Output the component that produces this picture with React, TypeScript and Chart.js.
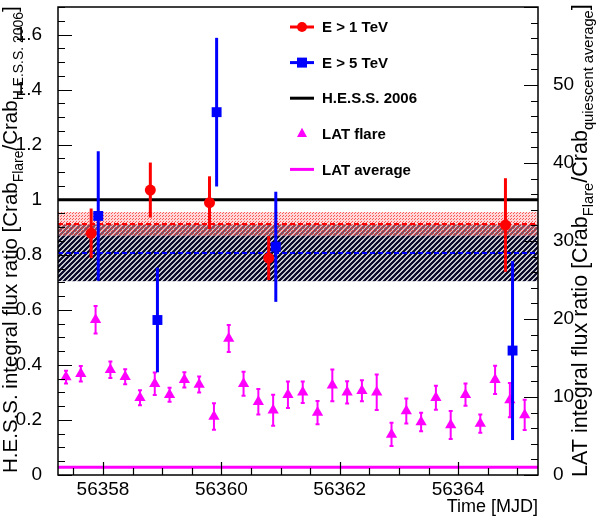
import React, { useEffect, useRef } from 'react';
import { Chart, registerables } from 'chart.js';

Chart.register(...registerables);

const FONT = "'Liberation Sans', Arial, Helvetica, sans-serif";

// frame range in time [MJD]
const X_MIN = 56357.24;
const X_MAX = 56365.35;

const xTicks = [56358, 56360, 56362, 56364];
const leftTicks = [0, 0.2, 0.4, 0.6, 0.8, 1, 1.2, 1.4, 1.6];
const rightTicks = [0, 10, 20, 30, 40, 50];

// H.E.S.S. E > 1 TeV (ratio to H.E.S.S. 2006 Crab)
const tev1Time = [56357.8, 56358.8, 56359.8, 56360.8, 56364.8];
const tev1Flux = [0.878, 1.035, 0.989, 0.788, 0.908];
const tev1Err = [0.09, 0.1, 0.096, 0.08, 0.17];

// H.E.S.S. E > 5 TeV
const tev5Time = [56357.92, 56358.92, 56359.92, 56360.92, 56364.92];
const tev5Flux = [0.941, 0.563, 1.318, 0.829, 0.452];
const tev5Err = [0.235, 0.19, 0.27, 0.2, 0.325];

// Fermi-LAT flare, 6 h bins (ratio to quiescent average, right axis)
const latTime = [
  56357.375, 56357.625, 56357.875, 56358.125, 56358.375, 56358.625, 56358.875, 56359.125,
  56359.375, 56359.625, 56359.875, 56360.125, 56360.375, 56360.625, 56360.875, 56361.125,
  56361.375, 56361.625, 56361.875, 56362.125, 56362.375, 56362.625, 56362.875, 56363.125,
  56363.375, 56363.625, 56363.875, 56364.125, 56364.375, 56364.625, 56364.875, 56365.125,
];
const latFlux = [
  12.55, 12.99, 19.9, 13.5, 12.6, 9.9, 11.7, 10.3,
  12.2, 11.6, 7.5, 17.5, 11.7, 9.4, 8.3, 10.3,
  10.6, 8.0, 11.5, 10.6, 10.8, 10.6, 5.2, 8.2,
  6.8, 9.9, 6.4, 10.3, 6.6, 12.2, 9.6, 7.7,
];
const latErr = [
  0.83, 1.0, 1.77, 1.05, 0.96, 0.96, 1.43, 0.9,
  0.98, 1.02, 1.7, 1.72, 1.55, 1.64, 2.0, 1.7,
  1.38, 1.49, 2.04, 1.43, 1.34, 2.28, 1.49, 1.6,
  1.19, 1.53, 1.79, 1.43, 1.17, 1.81, 2.19, 1.94,
];

// reference levels
const HESS_2006 = 1.0;
const LAT_AVERAGE = 1.0;
const tev1Mean = 0.912;
const tev1Band = [0.868, 0.955];
const tev5Mean = 0.806;
const tev5Band = [0.704, 0.91];

const RED = '#ff0000';
const BLUE = '#0000ff';
const MAGENTA = '#ff00ff';

type Part = { t: string; sub?: boolean };

const leftTitle: Part[] = [
  { t: 'H.E.S.S. integral flux ratio [Crab' },
  { t: 'Flare', sub: true },
  { t: '/Crab' },
  { t: 'H.E.S.S. 2006', sub: true },
  { t: ']' },
];
const rightTitle: Part[] = [
  { t: 'LAT integral flux ratio [Crab' },
  { t: 'Flare', sub: true },
  { t: '/Crab' },
  { t: 'quiescent average', sub: true },
  { t: ']' },
];

const legendItems = [
  { label: 'E > 1 TeV', color: RED, line: true, marker: 'circle' },
  { label: 'E > 5 TeV', color: BLUE, line: true, marker: 'rect' },
  { label: 'H.E.S.S. 2006', color: '#000', line: true, marker: '' },
  { label: 'LAT flare', color: MAGENTA, line: false, marker: 'triangle' },
  { label: 'LAT average', color: MAGENTA, line: true, marker: '' },
];

const pts = (xs: number[], ys: number[]) => xs.map((x, i) => ({ x, y: ys[i] }));
const flat = (y: number) => [{ x: X_MIN, y }, { x: X_MAX, y }];

// rotated title, reads bottom to top, stretched to the given length
function drawVerticalTitle(ctx: CanvasRenderingContext2D, parts: Part[], baseX: number, yBottom: number, length: number) {
  const subScale = 0.68;
  const widthAt = (f: number) =>
    parts.reduce((w, p) => {
      ctx.font = `${p.sub ? f * subScale : f}px ${FONT}`;
      return w + ctx.measureText(p.t).width;
    }, 0);
  const f = (20 * length) / widthAt(20);
  ctx.save();
  ctx.translate(baseX, yBottom);
  ctx.rotate(-Math.PI / 2);
  ctx.fillStyle = '#000';
  ctx.textAlign = 'left';
  ctx.textBaseline = 'alphabetic';
  let x = 0;
  for (const p of parts) {
    ctx.font = `${p.sub ? f * subScale : f}px ${FONT}`;
    ctx.fillText(p.t, x, p.sub ? f * 0.3 : 0);
    x += ctx.measureText(p.t).width;
  }
  ctx.restore();
}

function drawMarker(ctx: CanvasRenderingContext2D, style: string, x: number, y: number, color: string) {
  ctx.fillStyle = color;
  ctx.beginPath();
  if (style === 'circle') ctx.arc(x, y, 5, 0, Math.PI * 2);
  else if (style === 'rect') ctx.rect(x - 5, y - 5, 10, 10);
  else if (style === 'triangle') {
    ctx.moveTo(x, y - 6);
    ctx.lineTo(x + 5, y + 3.2);
    ctx.lineTo(x - 5, y + 3.2);
    ctx.closePath();
  }
  ctx.fill();
}

const rootStyle = {
  id: 'rootStyle',
  beforeDatasetsDraw(chart: any) {
    const { ctx, chartArea } = chart;
    const y = chart.scales.y;
    const { left, right } = chartArea;
    ctx.save();
    // E > 5 TeV band, hatched
    const hc = document.createElement('canvas');
    hc.width = 5;
    hc.height = 5;
    const hg = hc.getContext('2d')!;
    hg.strokeStyle = '#080828';
    hg.lineWidth = 2.3;
    hg.beginPath();
    hg.moveTo(0, 5);
    hg.lineTo(5, 0);
    hg.moveTo(-1, 1);
    hg.lineTo(1, -1);
    hg.moveTo(4, 6);
    hg.lineTo(6, 4);
    hg.stroke();
    ctx.fillStyle = ctx.createPattern(hc, 'repeat');
    let t = y.getPixelForValue(tev5Band[1]);
    let b = y.getPixelForValue(tev5Band[0]);
    ctx.fillRect(left, t, right - left, b - t);
    // E > 1 TeV band, dotted
    const dc = document.createElement('canvas');
    dc.width = 3;
    dc.height = 3;
    const dg = dc.getContext('2d')!;
    dg.fillStyle = 'rgba(255,170,170,0.45)';
    dg.fillRect(0, 0, 3, 3);
    dg.fillStyle = 'rgba(255,40,40,0.75)';
    dg.fillRect(0, 0, 1, 1);
    dg.fillRect(1, 2, 1, 1);
    ctx.fillStyle = ctx.createPattern(dc, 'repeat');
    t = y.getPixelForValue(tev1Band[1]);
    b = y.getPixelForValue(tev1Band[0]);
    ctx.fillRect(left, t, right - left, b - t);
    ctx.restore();
  },
  beforeDatasetDraw(chart: any, args: any) {
    const ds = chart.data.datasets[args.index];
    if (!ds.errors) return;
    const { ctx, chartArea } = chart;
    const xs = chart.scales.x;
    const ys = chart.scales[ds.yAxisID || 'y'];
    ctx.save();
    ctx.beginPath();
    ctx.rect(chartArea.left, chartArea.top, chartArea.right - chartArea.left, chartArea.bottom - chartArea.top);
    ctx.clip();
    ctx.strokeStyle = ds.borderColor;
    ctx.lineWidth = ds.errWidth;
    ds.data.forEach((p: any, i: number) => {
      const e = ds.errors[i];
      const px = xs.getPixelForValue(p.x);
      const top = ys.getPixelForValue(p.y + e);
      const bot = ys.getPixelForValue(p.y - e);
      ctx.beginPath();
      ctx.moveTo(px, top);
      ctx.lineTo(px, bot);
      if (ds.errCap) {
        ctx.moveTo(px - 2, top);
        ctx.lineTo(px + 2, top);
        ctx.moveTo(px - 2, bot);
        ctx.lineTo(px + 2, bot);
      }
      ctx.stroke();
    });
    ctx.restore();
  },
  afterDraw(chart: any) {
    const { ctx, chartArea } = chart;
    const { left, right, top, bottom } = chartArea;
    const x = chart.scales.x;
    const y = chart.scales.y;
    const y2 = chart.scales.y2;
    ctx.save();
    ctx.strokeStyle = '#000';
    ctx.lineWidth = 1.2;
    ctx.beginPath();
    // left axis ticks
    for (let v = 0; v <= 1.7001; v += 0.05) {
      const major = Math.abs(v / 0.2 - Math.round(v / 0.2)) < 1e-6;
      const py = Math.round(y.getPixelForValue(v)) + 0.5;
      ctx.moveTo(left, py);
      ctx.lineTo(left + (major ? 14 : 7), py);
    }
    // right axis ticks
    for (let v = 0; v <= 60.001; v += 2) {
      const major = v % 10 === 0;
      const py = Math.round(y2.getPixelForValue(v)) + 0.5;
      ctx.moveTo(right, py);
      ctx.lineTo(right - (major ? 14 : 7), py);
    }
    // time ticks
    for (let v = 56357.5; v <= X_MAX; v += 0.5) {
      const major = xTicks.includes(v);
      const px = Math.round(x.getPixelForValue(v)) + 0.5;
      ctx.moveTo(px, bottom);
      ctx.lineTo(px, bottom - (major ? 13 : 7));
    }
    ctx.stroke();
    ctx.lineWidth = 1.5;
    ctx.strokeRect(left, top, right - left, bottom - top);

    // legend
    const lx = 290;
    legendItems.forEach((it, i) => {
      const ly = 27 + i * 35.6;
      if (it.line) {
        ctx.strokeStyle = it.color;
        ctx.lineWidth = 3;
        ctx.beginPath();
        ctx.moveTo(lx, ly);
        ctx.lineTo(lx + 24, ly);
        ctx.stroke();
      }
      if (it.marker) drawMarker(ctx, it.marker, lx + 12, ly, it.color);
      ctx.fillStyle = '#000';
      ctx.font = `bold 15px ${FONT}`;
      ctx.textAlign = 'left';
      ctx.textBaseline = 'middle';
      ctx.fillText(it.label, 322, ly + 1);
    });

    // axis titles
    ctx.font = `18px ${FONT}`;
    ctx.textAlign = 'right';
    ctx.textBaseline = 'alphabetic';
    ctx.fillText('Time [MJD]', right, 512);
    drawVerticalTitle(ctx, leftTitle, 17, 473, 467);
    drawVerticalTitle(ctx, rightTitle, 587, 477, 473);
    ctx.restore();
  },
};

const tickFont = { family: FONT, size: 19 };

export default function App() {
  const canvasRef = useRef<HTMLCanvasElement | null>(null);

  useEffect(() => {
    if (!canvasRef.current) return;
    const chart = new Chart(canvasRef.current, {
      type: 'scatter',
      data: {
        datasets: [
          {
            label: 'E > 5 TeV',
            data: pts(tev5Time, tev5Flux),
            errors: tev5Err,
            errWidth: 3,
            pointStyle: 'rect',
            pointRadius: 7,
            backgroundColor: BLUE,
            borderColor: BLUE,
            borderWidth: 0,
            order: 1,
          },
          {
            label: 'E > 1 TeV',
            data: pts(tev1Time, tev1Flux),
            errors: tev1Err,
            errWidth: 3,
            pointStyle: 'circle',
            pointRadius: 5.5,
            backgroundColor: RED,
            borderColor: RED,
            borderWidth: 0,
            order: 2,
          },
          {
            label: 'LAT flare',
            data: pts(latTime, latFlux),
            yAxisID: 'y2',
            errors: latErr,
            errWidth: 2,
            errCap: true,
            pointStyle: 'triangle',
            pointRadius: 6.5,
            backgroundColor: MAGENTA,
            borderColor: MAGENTA,
            borderWidth: 0,
            order: 3,
          },
          {
            label: 'H.E.S.S. 2006',
            data: flat(HESS_2006),
            showLine: true,
            borderColor: '#000',
            borderWidth: 3,
            pointRadius: 0,
            order: 4,
          },
          {
            label: 'LAT average',
            data: flat(LAT_AVERAGE),
            yAxisID: 'y2',
            showLine: true,
            borderColor: MAGENTA,
            borderWidth: 3,
            pointRadius: 0,
            order: 4,
          },
          {
            label: 'E > 1 TeV mean',
            data: flat(tev1Mean),
            showLine: true,
            borderColor: RED,
            borderWidth: 2,
            borderDash: [5, 3],
            pointRadius: 0,
            order: 5,
          },
          {
            label: 'E > 5 TeV mean',
            data: flat(tev5Mean),
            showLine: true,
            borderColor: BLUE,
            borderWidth: 2,
            borderDash: [5, 3],
            pointRadius: 0,
            order: 5,
          },
        ] as any,
      },
      options: {
        animation: false,
        responsive: false,
        events: [],
        layout: { padding: { top: 5, left: 0, right: 0, bottom: 0 } },
        plugins: { legend: { display: false }, tooltip: { enabled: false } },
        scales: {
          x: {
            type: 'linear',
            min: X_MIN,
            max: X_MAX,
            grid: { display: false },
            border: { display: false },
            afterBuildTicks: (s: any) => {
              s.ticks = xTicks.map((value) => ({ value }));
            },
            afterFit: (s: any) => {
              s.height = 45;
              s.paddingLeft = 0;
              s.paddingRight = 0;
            },
            ticks: {
              autoSkip: false,
              maxRotation: 0,
              padding: -5,
              color: '#000',
              font: tickFont,
              callback: (v: any) => String(v),
            },
          },
          y: {
            position: 'left',
            min: 0,
            max: 1.7,
            grid: { display: false },
            border: { display: false },
            afterBuildTicks: (s: any) => {
              s.ticks = leftTicks.map((value) => ({ value }));
            },
            afterFit: (s: any) => {
              s.width = 58;
              s.paddingTop = 0;
              s.paddingBottom = 0;
            },
            ticks: {
              autoSkip: false,
              padding: 8,
              color: '#000',
              font: tickFont,
              callback: (v: any) => String(parseFloat(Number(v).toFixed(2))),
            },
          },
          y2: {
            position: 'right',
            min: 0,
            max: 60,
            grid: { display: false },
            border: { display: false },
            afterBuildTicks: (s: any) => {
              s.ticks = rightTicks.map((value) => ({ value }));
            },
            afterFit: (s: any) => {
              s.width = 62;
              s.paddingTop = 0;
              s.paddingBottom = 0;
            },
            ticks: {
              autoSkip: false,
              padding: 7,
              color: '#000',
              font: tickFont,
              callback: (v: any) => String(v),
            },
          },
        },
      } as any,
      plugins: [rootStyle as any],
    });
    return () => chart.destroy();
  }, []);

  return (
    <div style={{ position: 'fixed', left: 0, top: 0, width: 600, height: 520, background: '#fff' }}>
      <canvas ref={canvasRef} width={600} height={520} />
    </div>
  );
}
